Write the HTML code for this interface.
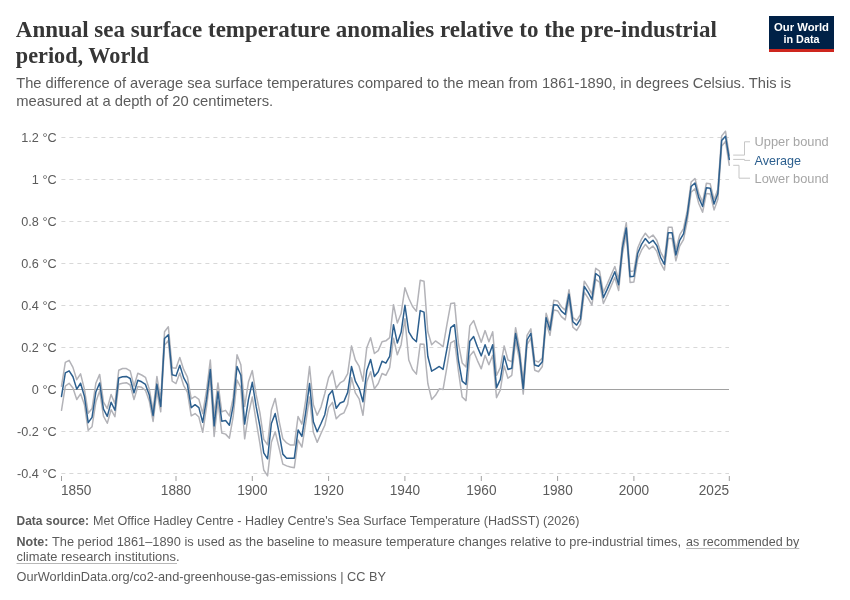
<!DOCTYPE html>
<html><head><meta charset="utf-8"><title>Annual sea surface temperature anomalies</title>
<style>
html,body{margin:0;padding:0;background:#fff;}
svg{display:block}
text{font-family:"Liberation Sans",sans-serif;}
.title{font-family:"Liberation Serif",serif;font-weight:bold;font-size:23.5px;fill:#363636;}
.sub{font-size:14.3px;fill:#5b5b5b;}
.ax{font-size:13px;fill:#5b5b5b;}
.ft{font-size:12.6px;fill:#5b5b5b;}
.lg{font-size:13px;}
.logo{font-size:11.6px;font-weight:bold;fill:#fff;}
</style></head><body>
<svg width="850" height="600" viewBox="0 0 850 600">
<rect width="850" height="600" fill="#fff"/>
<text class="title" x="15.8" y="37" textLength="701" lengthAdjust="spacingAndGlyphs">Annual sea surface temperature anomalies relative to the pre-industrial</text>
<text class="title" x="15.8" y="62.5" textLength="133" lengthAdjust="spacingAndGlyphs">period, World</text>
<text class="sub" x="16.2" y="88" textLength="775" lengthAdjust="spacingAndGlyphs">The difference of average sea surface temperatures compared to the mean from 1861-1890, in degrees Celsius. This is</text>
<text class="sub" x="16.2" y="105.5" textLength="257" lengthAdjust="spacingAndGlyphs">measured at a depth of 20 centimeters.</text>
<rect x="769" y="16" width="65" height="36" fill="#002147"/>
<rect x="769" y="49" width="65" height="3" fill="#ce261e"/>
<text class="logo" x="801.5" y="31" text-anchor="middle" textLength="55" lengthAdjust="spacingAndGlyphs">Our World</text>
<text class="logo" x="801.5" y="42.7" text-anchor="middle" textLength="36" lengthAdjust="spacingAndGlyphs">in Data</text>
<line x1="61.4" x2="729" y1="137.5" y2="137.5" stroke="#d8d8d8" stroke-width="1" stroke-dasharray="4,4"/>
<text transform="translate(56.6,141.5) scale(0.975,1.05)" text-anchor="end" class="ax">1.2 °C</text>
<line x1="61.4" x2="729" y1="179.5" y2="179.5" stroke="#d8d8d8" stroke-width="1" stroke-dasharray="4,4"/>
<text transform="translate(56.6,183.5) scale(0.975,1.05)" text-anchor="end" class="ax">1 °C</text>
<line x1="61.4" x2="729" y1="221.5" y2="221.5" stroke="#d8d8d8" stroke-width="1" stroke-dasharray="4,4"/>
<text transform="translate(56.6,225.5) scale(0.975,1.05)" text-anchor="end" class="ax">0.8 °C</text>
<line x1="61.4" x2="729" y1="263.5" y2="263.5" stroke="#d8d8d8" stroke-width="1" stroke-dasharray="4,4"/>
<text transform="translate(56.6,267.5) scale(0.975,1.05)" text-anchor="end" class="ax">0.6 °C</text>
<line x1="61.4" x2="729" y1="305.5" y2="305.5" stroke="#d8d8d8" stroke-width="1" stroke-dasharray="4,4"/>
<text transform="translate(56.6,309.5) scale(0.975,1.05)" text-anchor="end" class="ax">0.4 °C</text>
<line x1="61.4" x2="729" y1="347.5" y2="347.5" stroke="#d8d8d8" stroke-width="1" stroke-dasharray="4,4"/>
<text transform="translate(56.6,351.5) scale(0.975,1.05)" text-anchor="end" class="ax">0.2 °C</text>
<line x1="62" x2="729" y1="389.5" y2="389.5" stroke="#a1a1a1" stroke-width="1"/>
<text transform="translate(56.6,393.5) scale(0.975,1.05)" text-anchor="end" class="ax">0 °C</text>
<line x1="61.4" x2="729" y1="431.5" y2="431.5" stroke="#d8d8d8" stroke-width="1" stroke-dasharray="4,4"/>
<text transform="translate(56.6,435.5) scale(0.975,1.05)" text-anchor="end" class="ax">-0.2 °C</text>
<line x1="61.4" x2="729" y1="473.5" y2="473.5" stroke="#d8d8d8" stroke-width="1" stroke-dasharray="4,4"/>
<text transform="translate(56.6,477.5) scale(0.975,1.05)" text-anchor="end" class="ax">-0.4 °C</text>

<line x1="61.5" x2="61.5" y1="476" y2="481" stroke="#a1a1a1" stroke-width="1"/>
<text transform="translate(61.0,494.9) scale(1.05,1.06)" text-anchor="start" class="ax">1850</text>
<line x1="176.0" x2="176.0" y1="476" y2="481" stroke="#a1a1a1" stroke-width="1"/>
<text transform="translate(176.0,494.9) scale(1.05,1.06)" text-anchor="middle" class="ax">1880</text>
<line x1="252.3" x2="252.3" y1="476" y2="481" stroke="#a1a1a1" stroke-width="1"/>
<text transform="translate(252.3,494.9) scale(1.05,1.06)" text-anchor="middle" class="ax">1900</text>
<line x1="328.6" x2="328.6" y1="476" y2="481" stroke="#a1a1a1" stroke-width="1"/>
<text transform="translate(328.6,494.9) scale(1.05,1.06)" text-anchor="middle" class="ax">1920</text>
<line x1="404.9" x2="404.9" y1="476" y2="481" stroke="#a1a1a1" stroke-width="1"/>
<text transform="translate(404.9,494.9) scale(1.05,1.06)" text-anchor="middle" class="ax">1940</text>
<line x1="481.3" x2="481.3" y1="476" y2="481" stroke="#a1a1a1" stroke-width="1"/>
<text transform="translate(481.3,494.9) scale(1.05,1.06)" text-anchor="middle" class="ax">1960</text>
<line x1="557.6" x2="557.6" y1="476" y2="481" stroke="#a1a1a1" stroke-width="1"/>
<text transform="translate(557.6,494.9) scale(1.05,1.06)" text-anchor="middle" class="ax">1980</text>
<line x1="633.9" x2="633.9" y1="476" y2="481" stroke="#a1a1a1" stroke-width="1"/>
<text transform="translate(633.9,494.9) scale(1.05,1.06)" text-anchor="middle" class="ax">2000</text>
<line x1="729.3" x2="729.3" y1="476" y2="481" stroke="#a1a1a1" stroke-width="1"/>
<text transform="translate(729.1,494.9) scale(1.05,1.06)" text-anchor="end" class="ax">2025</text>

<path d="M61.50,386.18 L65.32,362.29 L69.13,360.29 L72.95,367.35 L76.76,379.71 L80.58,373.82 L84.40,389.12 L88.21,413.24 L92.03,408.53 L95.84,383.24 L99.66,374.41 L103.48,402.06 L107.29,408.53 L111.11,394.41 L114.92,403.82 L118.74,370.29 L122.56,368.53 L126.37,368.53 L130.19,370.88 L134.00,386.18 L137.82,373.24 L141.64,375.00 L145.45,377.35 L149.27,389.12 L153.08,410.29 L156.90,376.47 L160.72,400.59 L164.53,331.76 L168.35,326.82 L172.16,367.65 L175.98,368.24 L179.80,357.41 L183.61,369.41 L187.43,377.06 L191.24,398.82 L195.06,396.47 L198.88,399.41 L202.69,413.53 L206.51,390.59 L210.32,360.00 L214.14,415.29 L217.96,382.94 L221.77,411.76 L225.59,410.35 L229.40,415.88 L233.22,397.65 L237.04,354.71 L240.85,364.71 L244.67,406.47 L248.48,381.76 L252.30,370.59 L256.12,394.71 L259.93,412.94 L263.75,439.41 L267.56,444.71 L271.38,410.00 L275.20,398.47 L279.01,420.59 L282.83,438.82 L286.64,442.94 L290.46,445.06 L294.28,445.06 L298.09,416.47 L301.91,424.12 L305.72,400.00 L309.54,366.47 L313.36,404.71 L317.17,415.29 L320.99,407.06 L324.80,393.53 L328.62,377.65 L332.44,370.59 L336.25,388.24 L340.07,382.94 L343.88,380.59 L347.70,373.53 L351.52,345.88 L355.33,360.00 L359.15,366.47 L362.96,381.18 L366.78,347.65 L370.60,337.65 L374.41,353.53 L378.23,350.59 L382.04,341.76 L385.86,340.82 L389.68,337.65 L393.49,304.71 L397.31,322.94 L401.12,313.53 L404.94,287.65 L408.76,298.24 L412.57,306.47 L416.39,311.18 L420.20,280.35 L424.02,281.18 L427.84,331.76 L431.65,344.71 L435.47,340.94 L439.28,343.53 L443.10,346.82 L446.92,324.71 L450.73,303.53 L454.55,302.94 L458.36,342.94 L462.18,362.94 L466.00,367.06 L469.81,325.88 L473.63,320.59 L477.44,331.76 L481.26,342.35 L485.08,330.59 L488.89,341.76 L492.71,331.76 L496.52,375.29 L500.34,367.65 L504.16,345.88 L507.97,360.00 L511.79,361.76 L515.60,327.65 L519.42,347.65 L523.24,381.76 L527.05,335.29 L530.87,328.82 L534.68,360.59 L538.50,362.00 L542.32,358.00 L546.13,313.25 L549.95,325.60 L553.76,300.31 L557.58,300.89 L561.40,306.78 L565.21,310.07 L569.03,289.72 L572.84,317.36 L576.66,320.66 L580.48,314.42 L584.29,281.17 L588.11,287.05 L591.92,294.11 L595.74,268.23 L599.56,271.17 L603.37,292.35 L607.19,284.11 L611.00,275.29 L614.82,266.46 L618.64,279.41 L622.45,242.64 L626.27,222.64 L630.08,271.46 L633.90,270.88 L637.72,247.94 L641.53,239.11 L645.35,233.23 L649.16,237.94 L652.98,234.99 L656.80,240.29 L660.61,252.05 L664.43,259.11 L668.24,227.35 L672.06,227.35 L675.88,249.70 L679.69,234.99 L683.51,228.52 L687.32,210.31 L691.14,182.07 L694.96,178.54 L698.77,193.25 L702.59,202.07 L706.40,183.25 L710.22,183.84 L714.04,199.72 L717.85,189.13 L721.67,135.90 L725.48,131.18 L729.30,155.29" fill="none" stroke="#b3b3b8" stroke-width="1.5" stroke-linejoin="round" stroke-linecap="round"/>
<path d="M61.50,410.29 L65.32,386.18 L69.13,383.24 L72.95,387.94 L76.76,399.47 L80.58,393.82 L84.40,404.41 L88.21,430.29 L92.03,426.76 L95.84,402.06 L99.66,390.88 L103.48,416.18 L107.29,423.24 L111.11,409.71 L114.92,416.76 L118.74,384.18 L122.56,383.24 L126.37,382.65 L130.19,385.00 L134.00,399.47 L137.82,386.53 L141.64,387.35 L145.45,390.29 L149.27,400.88 L153.08,421.47 L156.90,391.76 L160.72,411.76 L164.53,345.29 L168.35,340.59 L172.16,381.18 L175.98,383.53 L179.80,372.94 L183.61,385.29 L187.43,392.35 L191.24,415.88 L195.06,413.53 L198.88,417.06 L202.69,432.35 L206.51,407.06 L210.32,377.06 L214.14,436.47 L217.96,401.18 L221.77,432.94 L225.59,434.12 L229.40,438.24 L233.22,416.47 L237.04,380.00 L240.85,387.65 L244.67,438.82 L248.48,414.12 L252.30,397.06 L256.12,421.18 L259.93,443.53 L263.75,470.00 L267.56,475.88 L271.38,442.35 L275.20,431.76 L279.01,447.65 L282.83,464.12 L286.64,465.88 L290.46,467.06 L294.28,467.65 L298.09,440.00 L301.91,447.06 L305.72,422.94 L309.54,397.06 L313.36,432.35 L317.17,442.35 L320.99,433.53 L324.80,425.29 L328.62,407.65 L332.44,402.35 L336.25,418.82 L340.07,414.71 L343.88,412.94 L347.70,404.12 L351.52,377.65 L355.33,392.94 L359.15,398.82 L362.96,415.29 L366.78,381.76 L370.60,371.76 L374.41,388.82 L378.23,383.53 L382.04,373.53 L385.86,375.29 L389.68,367.65 L393.49,338.24 L397.31,354.71 L401.12,344.71 L404.94,318.82 L408.76,360.00 L412.57,369.41 L416.39,374.12 L420.20,344.12 L424.02,344.35 L427.84,383.53 L431.65,399.41 L435.47,395.29 L439.28,388.82 L443.10,389.41 L446.92,367.06 L450.73,342.94 L454.55,340.59 L458.36,370.59 L462.18,397.06 L466.00,400.59 L469.81,355.88 L473.63,351.18 L477.44,360.59 L481.26,368.82 L485.08,355.29 L488.89,364.71 L492.71,355.29 L496.52,397.65 L500.34,390.00 L504.16,365.88 L507.97,378.24 L511.79,375.29 L515.60,340.59 L519.42,359.41 L523.24,394.12 L527.05,344.71 L530.87,338.24 L534.68,370.24 L538.50,371.76 L542.32,366.47 L546.13,323.05 L549.95,335.40 L553.76,310.11 L557.58,310.69 L561.40,316.58 L565.21,319.87 L569.03,299.52 L572.84,327.16 L576.66,330.46 L580.48,324.22 L584.29,292.27 L588.11,298.15 L591.92,305.21 L595.74,279.33 L599.56,282.27 L603.37,303.45 L607.19,295.21 L611.00,286.39 L614.82,277.56 L618.64,290.51 L622.45,253.74 L626.27,233.74 L630.08,282.56 L633.90,281.98 L637.72,259.04 L641.53,250.21 L645.35,244.33 L649.16,249.04 L652.98,246.09 L656.80,251.39 L660.61,263.15 L664.43,270.21 L668.24,238.45 L672.06,238.45 L675.88,260.80 L679.69,246.09 L683.51,239.62 L687.32,220.51 L691.14,192.27 L694.96,188.74 L698.77,203.45 L702.59,212.27 L706.40,193.45 L710.22,194.04 L714.04,209.92 L717.85,199.33 L721.67,146.30 L725.48,141.40 L729.30,165.29" fill="none" stroke="#b3b3b8" stroke-width="1.5" stroke-linejoin="round" stroke-linecap="round"/>
<path d="M61.50,396.41 L65.32,372.88 L69.13,370.88 L72.95,376.76 L76.76,389.12 L80.58,383.24 L84.40,396.18 L88.21,422.65 L92.03,417.35 L95.84,392.06 L99.66,383.00 L103.48,409.12 L107.29,416.41 L111.11,402.29 L114.92,410.29 L118.74,377.94 L122.56,376.76 L126.37,376.41 L130.19,378.53 L134.00,392.88 L137.82,380.29 L141.64,381.82 L145.45,384.41 L149.27,395.00 L153.08,415.59 L156.90,384.12 L160.72,406.47 L164.53,338.59 L168.35,334.71 L172.16,374.71 L175.98,375.88 L179.80,365.29 L183.61,377.65 L187.43,384.71 L191.24,407.65 L195.06,404.71 L198.88,407.65 L202.69,422.35 L206.51,399.41 L210.32,369.41 L214.14,425.88 L217.96,391.76 L221.77,421.18 L225.59,420.59 L229.40,425.29 L233.22,405.29 L237.04,366.47 L240.85,375.29 L244.67,424.12 L248.48,399.41 L252.30,382.35 L256.12,406.47 L259.93,426.47 L263.75,452.94 L267.56,458.82 L271.38,423.53 L275.20,413.53 L279.01,432.35 L282.83,454.12 L286.64,458.24 L290.46,458.24 L294.28,458.24 L298.09,430.00 L301.91,436.47 L305.72,412.35 L309.54,383.53 L313.36,421.76 L317.17,431.76 L320.99,423.53 L324.80,414.71 L328.62,395.29 L332.44,390.59 L336.25,408.24 L340.07,402.94 L343.88,401.53 L347.70,392.35 L351.52,366.47 L355.33,381.18 L359.15,388.24 L362.96,401.76 L366.78,370.59 L370.60,359.41 L374.41,376.47 L378.23,371.76 L382.04,361.18 L385.86,363.18 L389.68,356.47 L393.49,324.71 L397.31,342.94 L401.12,332.35 L404.94,305.29 L408.76,331.76 L412.57,338.24 L416.39,341.76 L420.20,310.59 L424.02,312.12 L427.84,356.47 L431.65,371.18 L435.47,368.82 L439.28,366.47 L443.10,369.41 L446.92,348.82 L450.73,327.65 L454.55,324.71 L458.36,360.00 L462.18,381.18 L466.00,384.47 L469.81,341.18 L473.63,336.47 L477.44,347.06 L481.26,355.88 L485.08,344.71 L488.89,355.29 L492.71,344.71 L496.52,387.65 L500.34,379.41 L504.16,355.88 L507.97,369.41 L511.79,368.24 L515.60,333.53 L519.42,353.53 L523.24,388.82 L527.05,340.00 L530.87,333.29 L534.68,365.06 L538.50,366.24 L542.32,361.76 L546.13,317.65 L549.95,330.00 L553.76,304.71 L557.58,305.29 L561.40,311.18 L565.21,314.47 L569.03,294.12 L572.84,321.76 L576.66,325.06 L580.48,318.82 L584.29,286.47 L588.11,292.35 L591.92,299.41 L595.74,273.53 L599.56,276.47 L603.37,297.65 L607.19,289.41 L611.00,280.59 L614.82,271.76 L618.64,284.71 L622.45,247.94 L626.27,227.94 L630.08,276.76 L633.90,276.18 L637.72,253.24 L641.53,244.41 L645.35,238.53 L649.16,243.24 L652.98,240.29 L656.80,245.59 L660.61,257.35 L664.43,264.41 L668.24,232.65 L672.06,232.65 L675.88,255.00 L679.69,240.29 L683.51,233.82 L687.32,214.71 L691.14,186.47 L694.96,182.94 L698.77,197.65 L702.59,206.47 L706.40,187.65 L710.22,188.24 L714.04,204.12 L717.85,193.53 L721.67,140.60 L725.48,136.24 L729.30,159.41" fill="none" stroke="#2c5f8e" stroke-width="1.5" stroke-linejoin="round" stroke-linecap="round"/>
<g fill="none" stroke="#c6c6c6" stroke-width="1">
<path d="M733.2,155.1 H744.5 V141.8 H750"/>
<path d="M733.2,159.4 H744.5 V160.4 H750"/>
<path d="M733.2,165.3 H739 V178.2 H750"/>
</g>
<text class="lg" x="754.5" y="146.1" fill="#a6a6a6" textLength="74.2" lengthAdjust="spacingAndGlyphs">Upper bound</text>
<text class="lg" x="754.5" y="164.7" fill="#2c5f8e" textLength="46.6" lengthAdjust="spacingAndGlyphs">Average</text>
<text class="lg" x="754.5" y="183" fill="#a6a6a6" textLength="74.2" lengthAdjust="spacingAndGlyphs">Lower bound</text>
<text class="ft" x="16.5" y="525" font-weight="bold" textLength="72.5" lengthAdjust="spacingAndGlyphs">Data source:</text>
<text class="ft" x="93" y="525" textLength="486.4" lengthAdjust="spacingAndGlyphs">Met Office Hadley Centre - Hadley Centre's Sea Surface Temperature (HadSST) (2026)</text>
<text class="ft" x="16.5" y="545.5" font-weight="bold" textLength="32" lengthAdjust="spacingAndGlyphs">Note:</text>
<text class="ft" x="52" y="545.5" textLength="629" lengthAdjust="spacingAndGlyphs">The period 1861–1890 is used as the baseline to measure temperature changes relative to pre-industrial times,</text>
<text class="ft" x="686" y="545.5" textLength="113.3" lengthAdjust="spacingAndGlyphs">as recommended by</text>
<text class="ft" x="16.5" y="560.5" textLength="163" lengthAdjust="spacingAndGlyphs">climate research institutions.</text>
<line x1="686" x2="799.3" y1="548.5" y2="548.5" stroke="#b8b8b8" stroke-width="1"/>
<line x1="16.5" x2="177" y1="563.5" y2="563.5" stroke="#b8b8b8" stroke-width="1"/>
<text class="ft" x="16.5" y="580.8" textLength="369.5" lengthAdjust="spacingAndGlyphs">OurWorldinData.org/co2-and-greenhouse-gas-emissions | CC BY</text>
</svg>
</body></html>
